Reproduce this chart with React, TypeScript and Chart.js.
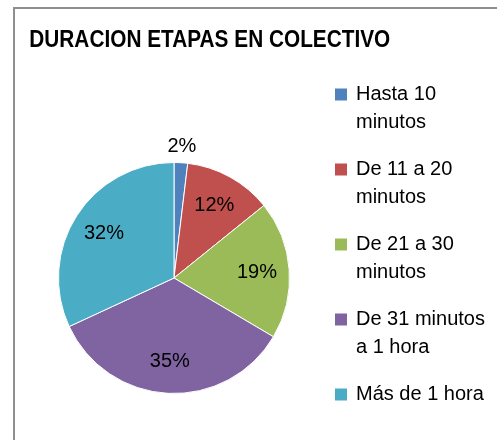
import React, { useEffect, useRef } from "react";
import { Chart, registerables } from "chart.js";

Chart.register(...registerables);

const chartTitle = "DURACION ETAPAS EN COLECTIVO";
const categories = [
  "Hasta 10 minutos",
  "De 11 a 20 minutos",
  "De 21 a 30 minutos",
  "De 31 minutos a 1 hora",
  "Más de 1 hora",
];
const values = [1.9, 12.3, 19.3, 34.6, 31.9];
const sliceColors = ["#4F81BD", "#C0504D", "#9BBB59", "#8064A2", "#4BACC6"];

const FONT = "'Liberation Sans', Arial, sans-serif";

function wrapText(ctx: CanvasRenderingContext2D, text: string, maxWidth: number): string[] {
  const words = text.split(" ");
  const lines: string[] = [];
  let cur = "";
  for (const w of words) {
    const test = cur ? cur + " " + w : w;
    if (cur && ctx.measureText(test).width > maxWidth) {
      lines.push(cur);
      cur = w;
    } else {
      cur = test;
    }
  }
  if (cur) lines.push(cur);
  return lines;
}

const condensedTitle = {
  id: "condensedTitle",
  afterDraw(chart: any, _args: any, opts: any) {
    const ctx = chart.ctx as CanvasRenderingContext2D;
    ctx.save();
    ctx.font = `bold ${opts.size}px ${FONT}`;
    ctx.fillStyle = "#000";
    ctx.textBaseline = "alphabetic";
    ctx.textAlign = "left";
    const w = ctx.measureText(opts.text).width;
    ctx.translate(opts.x, opts.y);
    ctx.scale(opts.width / w, 1);
    ctx.fillText(opts.text, 0, 0);
    ctx.restore();
  },
};

const wrapLegend = {
  id: "wrapLegend",
  afterDraw(chart: any, _args: any, opts: any) {
    const ctx = chart.ctx as CanvasRenderingContext2D;
    const ds = chart.data.datasets[0];
    ctx.save();
    ctx.font = `${opts.size}px ${FONT}`;
    ctx.textBaseline = "middle";
    ctx.textAlign = "left";
    let y = opts.y;
    (chart.data.labels as string[]).forEach((label, i) => {
      const lines = wrapText(ctx, label, opts.maxWidth);
      ctx.fillStyle = ds.backgroundColor[i];
      ctx.fillRect(opts.x, y - opts.box / 2, opts.box, opts.box);
      ctx.fillStyle = "#000";
      lines.forEach((ln, j) => ctx.fillText(ln, opts.x + opts.textGap, y + j * opts.lineHeight));
      y += lines.length * opts.lineHeight + opts.gap;
    });
    ctx.restore();
  },
};

const pctLabels = {
  id: "pctLabels",
  afterDatasetsDraw(chart: any, _args: any, opts: any) {
    const ctx = chart.ctx as CanvasRenderingContext2D;
    const meta = chart.getDatasetMeta(0);
    const data = chart.data.datasets[0].data as number[];
    const total = data.reduce((a, b) => a + b, 0);
    ctx.save();
    ctx.font = `${opts.size}px ${FONT}`;
    ctx.fillStyle = "#000";
    ctx.textAlign = "center";
    ctx.textBaseline = "middle";
    meta.data.forEach((arc: any, i: number) => {
      const p = arc.getProps(["startAngle", "endAngle", "outerRadius", "x", "y"], true);
      const mid = (p.startAngle + p.endAngle) / 2;
      const pct = (data[i] / total) * 100;
      const r = pct < 5 ? p.outerRadius + opts.outsideOffset : p.outerRadius * opts.insideFactor;
      ctx.fillText(Math.round(pct) + "%", p.x + Math.cos(mid) * r, p.y + Math.sin(mid) * r);
    });
    ctx.restore();
  },
};

export default function App() {
  const ref = useRef<HTMLCanvasElement>(null);
  useEffect(() => {
    const chart = new Chart(ref.current!, {
      type: "pie",
      data: {
        labels: categories,
        datasets: [
          {
            data: values,
            backgroundColor: sliceColors,
            borderColor: "#ffffff",
            borderWidth: 1,
          },
        ],
      },
      options: {
        responsive: false,
        animation: false,
        layout: { padding: { left: 43, top: 153, right: 207, bottom: 46 } },
        plugins: {
          legend: { display: false },
          tooltip: { enabled: false },
          title: { display: false },
          condensedTitle: { text: chartTitle, size: 23, x: 14.3, y: 38.3, width: 361 },
          wrapLegend: { x: 320, y: 85.5, box: 12, textGap: 21, size: 20, lineHeight: 28, gap: 19, maxWidth: 140 },
          pctLabels: { size: 20, insideFactor: 0.72, outsideOffset: 16 },
        } as any,
      },
      plugins: [condensedTitle, wrapLegend, pctLabels],
    });
    return () => chart.destroy();
  }, []);
  return (
    <div
      style={{
        position: "fixed",
        left: 13,
        top: 7,
        width: 484,
        height: 433,
        overflow: "hidden",
        background: "#fff",
      }}
    >
      <div
        style={{
          borderLeft: "2px solid #8f8f8f",
          borderTop: "2px solid #8f8f8f",
          width: 484,
          height: 433,
          boxSizing: "border-box",
        }}
      >
        <canvas ref={ref} width={482} height={431} style={{ display: "block" }} />
      </div>
    </div>
  );
}
